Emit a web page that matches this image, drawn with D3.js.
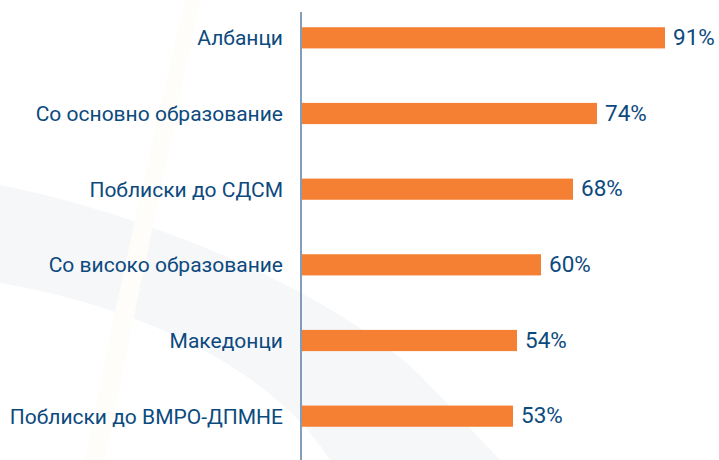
<!DOCTYPE html>
<html>
<head>
<meta charset="utf-8">
<script src="https://cdn.jsdelivr.net/npm/d3@7"></script>
<style>
  body { margin: 0; background: #fff; }
  text { font-family: Roboto, "Noto Sans", sans-serif; }
</style>
</head>
<body>
<script>
var categories = ["Албанци", "Со основно образование", "Поблиски до СДСМ",
                  "Со високо образование", "Македонци", "Поблиски до ВМРО-ДПМНЕ"];
var values = [91, 74, 68, 60, 54, 53];

var w = 719,
    h = 460;
var svg = d3.select('body').append('svg').attr("width", w).attr("height", h);

// faint background decoration
var bg = svg.append('g');
bg.append('path')
  .attr('d', "M0,185 C150,215 330,290 420,375 L500,460 L330,460 C280,380 160,310 0,283 Z")
  .attr('fill', '#f6f7f9');
bg.append('path')
  .attr('d', "M185,0 L200,0 C170,150 130,330 105,460 L85,460 C110,330 150,150 185,0 Z")
  .attr('fill', '#fefdf9');

var x = d3.scaleLinear().domain([0, 100]).range([301, 701]);
var y = d3.scaleBand().domain(categories).range([0, 454])
  .paddingInner(0.72).paddingOuter(0.36);

// vertical axis line
svg.append('line')
  .attr('x1', x(0)).attr('x2', x(0))
  .attr('y1', 12).attr('y2', h)
  .attr('stroke', '#5a7ea4').attr('stroke-width', 1.5);

var rows = svg.selectAll('g.row').data(categories).enter()
  .append('g').classed('row', true);

rows.append('rect')
  .attr('x', x(0) + 1)
  .attr('y', function(d) { return y(d); })
  .attr('width', function(d, i) { return x(values[i]) - x(0) - 1; })
  .attr('height', y.bandwidth())
  .attr('fill', '#f58033');

rows.append('text')
  .attr('x', 283)
  .attr('y', function(d) { return y(d) + y.bandwidth() / 2; })
  .attr('dy', '0.36em')
  .attr('text-anchor', 'end')
  .attr('font-size', 21)
  .attr('fill', '#0c4a7e')
  .text(function(d) { return d; });

rows.append('text')
  .attr('x', function(d, i) { return x(values[i]) + 8; })
  .attr('y', function(d) { return y(d) + y.bandwidth() / 2 - 1; })
  .attr('dy', '0.36em')
  .attr('font-size', 22.5)
  .attr('fill', '#0c4a7e')
  .text(function(d, i) { return values[i] + "%"; });
</script>
</body>
</html>
